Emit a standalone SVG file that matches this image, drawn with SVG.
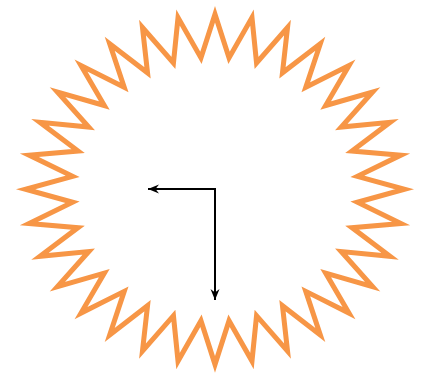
<svg xmlns="http://www.w3.org/2000/svg" width="424" height="375" viewBox="0 0 424 375">
<style>
.burst{fill:#ffffff;stroke:#f79646;stroke-width:5;stroke-linejoin:miter;stroke-miterlimit:12}
.conn{fill:none;stroke:#000000;stroke-width:2}
</style>
<defs>
<marker id="arr" markerUnits="userSpaceOnUse" viewBox="-12 -6 14 12" refX="0" refY="0" markerWidth="14" markerHeight="12" orient="auto-start-reverse">
<path d="M0,0 L-11,-4.5 L-7.5,0 L-11,4.5 Z" fill="#000000"/>
</marker>
</defs>
<g id="starburst" transform="translate(215,189.3) scale(1.008) translate(-215,-189)">
<polygon class="burst" points="215,15.3 228.92,58.63 251.68,18.64 256.22,63.64 286.94,28.52 281.94,73.47 319.45,44.57 305.08,87.74 347.94,66.18 324.77,105.89 371.32,92.5 340.23,127.25 388.69,122.53 350.89,150.97 399.39,155.11 356.32,176.16 403,189 356.32,201.84 399.39,222.89 350.89,227.03 388.69,255.47 340.23,250.75 371.32,285.5 324.77,272.11 347.94,311.82 305.08,290.26 319.45,333.43 281.94,304.47 286.94,349.48 256.22,314.36 251.68,359.36 228.92,319.37 215,362.7 201.08,319.37 178.32,359.36 173.78,314.36 143.06,349.48 148.06,304.47 110.55,333.43 124.92,290.26 82.06,311.82 105.23,272.11 58.68,285.5 89.77,250.75 41.31,255.47 79.11,227.03 30.61,222.89 73.68,201.84 27,189 73.68,176.16 30.61,155.11 79.11,150.97 41.31,122.53 89.77,127.25 58.68,92.5 105.23,105.89 82.06,66.18 124.92,87.74 110.55,44.57 148.06,73.47 143.06,28.52 173.78,63.64 178.32,18.64 201.08,58.63"/>
</g>
<g id="connectors">
<path class="conn" d="M148,189 L215,189 L215,300" marker-start="url(#arr)" marker-end="url(#arr)"/>
</g>
</svg>
